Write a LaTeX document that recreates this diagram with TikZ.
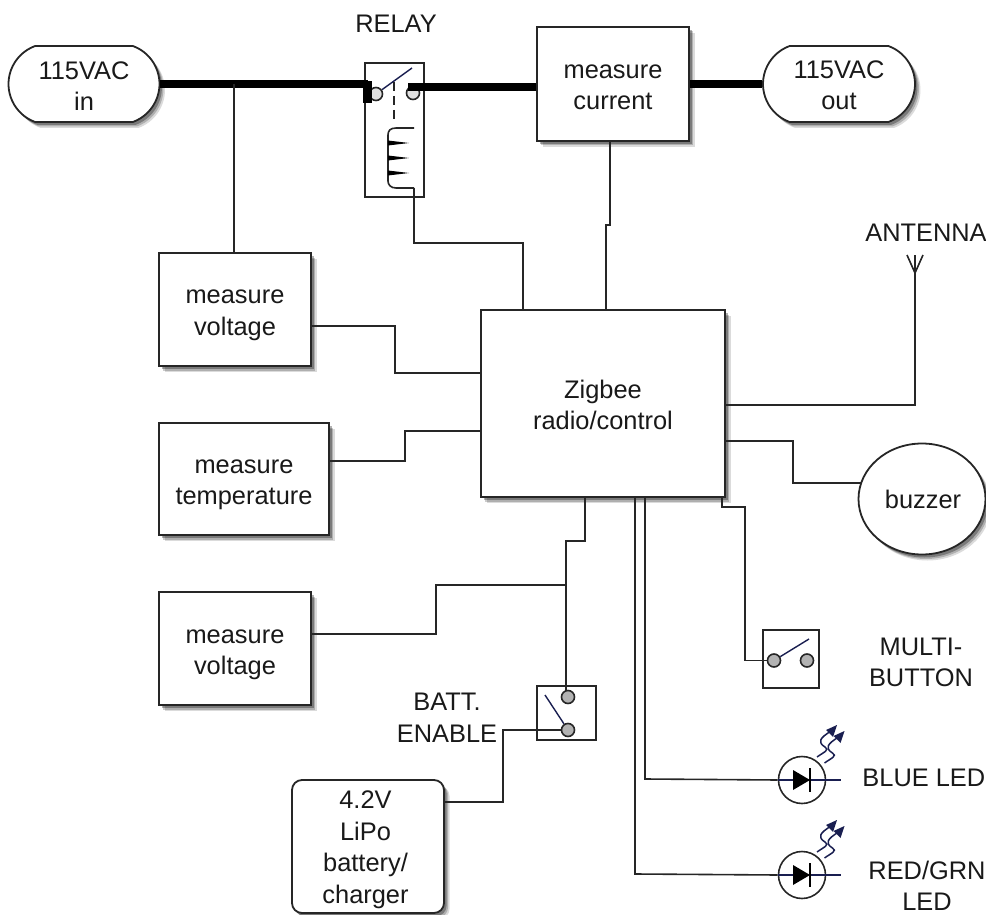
\documentclass[tikz,border=0pt]{standalone}
\usepackage{fontspec}
\setmainfont{Liberation Sans}
\usepackage{xcolor}
\usetikzlibrary{shapes.geometric,shapes.misc,shadows}
\definecolor{navy}{RGB}{25,30,80}
\tikzset{
  softshadow/.style={
    drop shadow={shadow xshift=5.5pt,shadow yshift=-6pt,fill=black,opacity=.14},
    drop shadow={shadow xshift=4pt,shadow yshift=-4.5pt,fill=black,opacity=.2},
    drop shadow={shadow xshift=2.5pt,shadow yshift=-3pt,fill=black,opacity=.3}},
  blockbox/.style={draw=black!85,line width=1.8pt,fill=white,inner sep=0pt,softshadow},
  endcap/.style={blockbox,rounded rectangle,rounded rectangle arc length=140,minimum width=151pt,minimum height=76pt},
  wire/.style={draw=black!85,line width=1.6pt},
  mains/.style={draw=black,line width=7.5pt},
  contact/.style={circle,draw=black!85,line width=1.6pt,fill=black!30,minimum size=13pt,inner sep=0pt},
  thinbox/.style={draw=black!85,line width=1.6pt,inner sep=0pt},
  caption/.style={align=center,text=black!90,inner sep=0pt}
}
\newcommand{\ledsym}[2]{%
  \node[circle,draw=black!85,line width=1.6pt,minimum size=47pt,inner sep=0pt] (#2) at (#1) {};
  \begin{scope}[shift={(#1)}]
    \draw[navy,line width=1.3pt] (-24,0) -- (39,0);
    \fill[black] (-9,-10) -- (8,0) -- (-9,10) -- cycle;
    \draw[black,line width=1.6pt] (8,-12) -- (8,12);
    \foreach \dx/\dy in {0/0,7.5/6} {
      \draw[navy,line width=1.5pt] (15+\dx,-23+\dy) .. controls (22+\dx,-28+\dy) and (28+\dx,-30+\dy) .. (23+\dx,-33+\dy) .. controls (15+\dx,-38+\dy) and (18+\dx,-42+\dy) .. (29+\dx,-49+\dy);
      \fill[navy] (35+\dx,-55+\dy) -- (24+\dx,-50+\dy) -- (31+\dx,-43+\dy) -- cycle;
    }
  \end{scope}}
\begin{document}
\begin{tikzpicture}[x=1pt,y=-1pt,font=\fontsize{25.4}{31.5}\selectfont]
\useasboundingbox (0,0) rectangle (986,915);
% relay box goes under the mains line
\node[thinbox,fill=white,minimum width=59pt,minimum height=134pt] (relay) at (394.5,130) {};
\node[caption] (relaylabel) at (396,24) {RELAY};
% blocks
\node[endcap] (acin) at (84,84) {};
\node[caption] (acintext) at (84,86) {115VAC\\in};
\node[endcap,minimum width=152pt] (acout) at (839,84) {};
\node[caption] (acouttext) at (839,85.5) {115VAC\\out};
\node[blockbox,minimum width=152pt,minimum height=114pt] (current) at (613,84) {};
\node[caption] (currenttext) at (613,87.5) {measure\\current};
\node[blockbox,minimum width=152pt,minimum height=113pt] (voltone) at (235,309.5) {};
\node[caption] (voltonetext) at (235,315.5) {measure\\voltage};
\node[blockbox,minimum width=170pt,minimum height=112pt] (temp) at (244,479) {};
\node[caption] (temptext) at (244,485) {measure\\temperature};
\node[blockbox,minimum width=152pt,minimum height=113pt] (volttwo) at (235,648.5) {};
\node[caption] (volttwotext) at (235,655) {measure\\voltage};
\node[blockbox,minimum width=244pt,minimum height=187pt] (zigbee) at (603,403.5) {};
\node[caption] (zigbeetext) at (603,405) {Zigbee\\radio/control};
\node[blockbox,ellipse,minimum width=127pt,minimum height=111pt] (buzzer) at (922,499) {};
\node[caption] (buzzertext) at (923,499) {buzzer};
\node[blockbox,rounded corners=10pt,minimum width=152pt,minimum height=133pt] (lipo) at (368,846.5) {};
\node[caption] (lipotext) at (365.5,850) {4.2V\\LiPo\\battery/\\charger};
\node[thinbox,minimum width=59pt,minimum height=54pt] (batt) at (566.5,713) {};
\node[thinbox,minimum width=56pt,minimum height=58pt] (multi) at (791,659) {};
% labels
\node[caption] (battlabel) at (447,718) {BATT.\\ENABLE};
\node[caption] (multilabel) at (921,662.5) {MULTI-\\BUTTON};
\node[caption,anchor=east] (bluelabel) at (985.5,778) {BLUE LED};
\node[caption] (redlabel) at (927,886) {RED/GRN\\LED};
\node[caption] (antlabel) at (926,233) {ANTENNA};
% mains line
\node[contact,fill=black!12] (relaya) at (376,94) {};
\node[contact,fill=black!12] (relayb) at (413,93) {};
\draw[mains] (acin.east) -- (368,84);
\fill[black] (363,81) rectangle (372,103);
\draw[mains] (408,87) -- (current.west |- 0,87);
\draw[mains] (current.east) -- (acout.west);
% relay symbol
\draw[navy,line width=1.4pt] (relaya) -- (412,68);
\draw[black!85,line width=1.6pt,dash pattern=on 9pt off 5pt] (394,82) -- (394,122);
\draw[wire] (414,128) -- (396,128) .. controls (390,128) and (388,131) .. (388,135) -- (388,181) .. controls (388,185) and (391,188) .. (396,188) -- (414,188);
\foreach \ypos in {143,158,173} \fill[black] (388,\ypos-2.5) -- (409,\ypos) -- (388,\ypos+2.5) -- cycle;
\coordinate (coilend) at (414,188);
% switches
\node[contact] (battup) at (568,697) {};
\node[contact] (battdown) at (568,730) {};
\draw[navy,line width=1.4pt] (battdown) -- (545,695);
\node[contact] (multia) at (774,660.5) {};
\node[contact] (multib) at (807,660.5) {};
\draw[navy,line width=1.4pt] (multia) -- (809,639);
% leds
\ledsym{802,780}{blueled}
\ledsym{802,875}{redled}
% antenna
\coordinate (anttop) at (915,255);
\draw[wire] (907,255) -- (915,273) -- (923,255);
% wires
\draw[wire] (234,84) -- (voltone.north -| 234,0);
\draw[wire] (coilend) -- (414,243) -- (523,243) -- (523,310);
\draw[wire] (610,141) -- (610,225) -- (606,225) -- (606,310);
\draw[wire] (voltone.east |- 0,326) -- (395,326) -- (395,373) -- (481,373);
\draw[wire] (temp.east |- 0,461) -- (405,461) -- (405,431) -- (481,431);
\draw[wire] (725,405) -- (915,405) -- (anttop);
\draw[wire] (725,441) -- (793,441) -- (793,483) -- (861,483);
\draw[wire] (585,497) -- (585,541) -- (566,541) -- (566,690);
\draw[wire] (volttwo.east |- 0,634) -- (436,634) -- (436,585) -- (566,585);
\draw[wire] (battdown) -- (503,730) -- (503,802) -- (lipo.east |- 0,802);
\draw[wire] (722,497) -- (722,507) -- (745,507) -- (745,660.5) -- (multia);
\draw[wire] (645,497) -- (645,779) -- (blueled.west);
\draw[wire] (635,497) -- (635,874) -- (redled.west);
\end{tikzpicture}
\end{document}
